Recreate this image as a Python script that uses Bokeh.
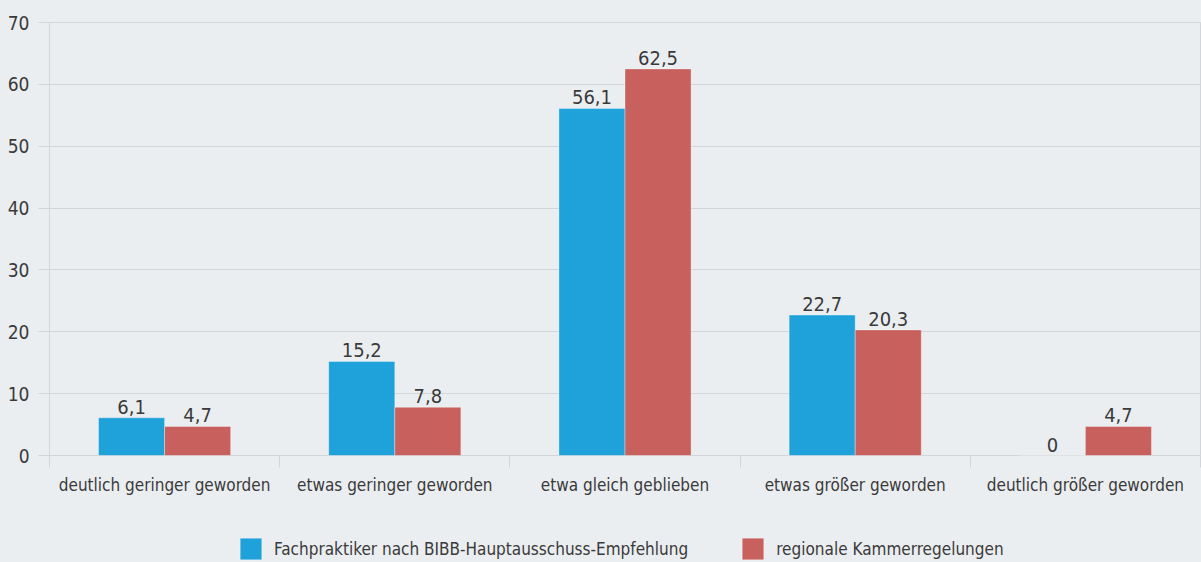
from bokeh.plotting import figure
from bokeh.layouts import column
from bokeh.models import (ColumnDataSource, FactorRange, Range1d, LinearAxis,
                          FixedTicker, Legend, LegendItem)
from bokeh.transform import dodge
from bokeh.core.properties import value
from bokeh.embed import file_html
from bokeh.resources import INLINE

# ---- data ----
categories = ["deutlich geringer geworden", "etwas geringer geworden", "etwa gleich geblieben",
              "etwas größer geworden", "deutlich größer geworden"]
series_names = ["Fachpraktiker nach BIBB-Hauptausschuss-Empfehlung", "regionale Kammerregelungen"]
fachpraktiker = [6.1, 15.2, 56.1, 22.7, 0]
kammer = [4.7, 7.8, 62.5, 20.3, 4.7]
y_ticks = [0, 10, 20, 30, 40, 50, 60, 70]

# ---- style ----
FONT = "DejaVu Sans Condensed"
BG = "#EBEEF1"
GRID = "#D2D5D9"
TXT = "#3A3A3A"
BLUE = "#1FA2DA"
RED = "#C8605D"


def fmt(v):
    return "0" if v == 0 else ("%.1f" % v).replace(".", ",")


src = ColumnDataSource(dict(
    cat=categories,
    a=fachpraktiker,
    b=kammer,
    la=[fmt(v) for v in fachpraktiker],
    lb=[fmt(v) for v in kammer],
))

p = figure(x_range=FactorRange(*categories), y_range=Range1d(0, 70),
           width=1201, height=500, output_backend="svg", toolbar_location=None,
           x_axis_location=None, background_fill_color=BG, border_fill_color=BG,
           min_border_left=49, min_border_top=22, min_border_right=1, min_border_bottom=45)
p.outline_line_color = GRID
p.outline_line_width = 1

# y axis
yax = p.yaxis[0]
yax.ticker = FixedTicker(ticks=y_ticks)
yax.axis_line_color = None
yax.major_tick_out = 11
yax.major_tick_in = 0
yax.minor_tick_line_color = None
yax.major_tick_line_color = GRID
yax.major_label_standoff = 9
yax.major_label_text_font = FONT
yax.major_label_text_font_size = "19px"
yax.major_label_text_color = TXT

p.ygrid.ticker = FixedTicker(ticks=y_ticks)
p.ygrid.grid_line_color = GRID
p.xgrid.grid_line_color = None

# category axis: labels at factor centres, separator ticks at factor edges
n = len(categories)
centres = [i + 0.5 for i in range(n)]
edges = [float(i) for i in range(n + 1)]
cat_axis = LinearAxis(ticker=FixedTicker(ticks=centres, minor_ticks=edges),
                      major_label_overrides={c: lab for c, lab in zip(centres, categories)},
                      major_tick_out=0, major_tick_in=0, minor_tick_out=12, minor_tick_in=0,
                      major_tick_line_color=None, minor_tick_line_color=GRID,
                      axis_line_color=None, major_label_standoff=7,
                      major_label_text_font=FONT, major_label_text_font_size="17px",
                      major_label_text_color=TXT)
p.add_layout(cat_axis, "below")

W = 0.287
bar_a = dict(fill_color=BLUE, line_color="white", line_alpha=0.35, line_width=1)
bar_b = dict(fill_color=RED, line_color="white", line_alpha=0.35, line_width=1)
p.vbar(x=dodge("cat", -W / 2, range=p.x_range), top="a", width=W, source=src, **bar_a)
p.vbar(x=dodge("cat", W / 2, range=p.x_range), top="b", width=W, source=src, **bar_b)

p.text(x=dodge("cat", -W / 2, range=p.x_range), y="a", text="la", source=src,
       text_align="center", text_baseline="bottom", y_offset=-4,
       text_font=value(FONT), text_font_size="20px", text_color=TXT)
p.text(x=dodge("cat", W / 2, range=p.x_range), y="b", text="lb", source=src,
       text_align="center", text_baseline="bottom", y_offset=-4,
       text_font=value(FONT), text_font_size="20px", text_color=TXT)

# ---- legend strip (its frame is aligned with the main plot's frame) ----
lg = figure(width=1201, height=62, x_range=Range1d(0, 1), y_range=Range1d(0, 1),
            output_backend="svg", toolbar_location=None,
            x_axis_location=None, y_axis_location=None,
            background_fill_alpha=0, border_fill_alpha=0, min_border=0)
lg.outline_line_color = None
lg.grid.visible = False
# legend-only proxies, placed outside the visible range
proxy = ColumnDataSource(dict(x=[-5], top=[0]))
l1 = lg.vbar(x="x", top="top", width=0.1, source=proxy, **bar_a)
l2 = lg.vbar(x="x", top="top", width=0.1, source=proxy, **bar_b)
legend = Legend(items=[LegendItem(label=series_names[0], renderers=[l1]),
                       LegendItem(label=series_names[1], renderers=[l2])],
                orientation="horizontal", location=(188, 0),
                background_fill_alpha=0, border_line_alpha=0,
                label_text_font=FONT, label_text_font_size="17px", label_text_color=TXT,
                glyph_width=27, glyph_height=27, label_standoff=10, spacing=51,
                padding=0, margin=0)
lg.add_layout(legend, "center")

layout = column(p, lg, spacing=0, styles={"background-color": BG})
open("out.html", "w").write(file_html(layout, INLINE))
